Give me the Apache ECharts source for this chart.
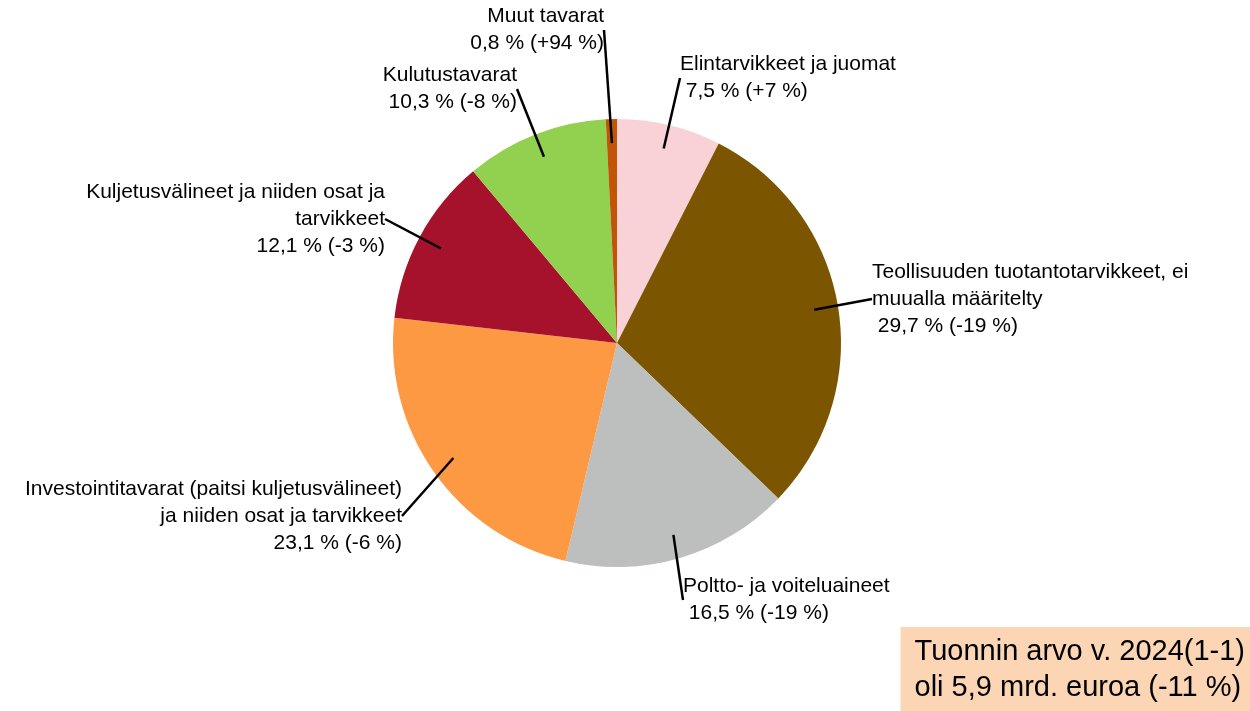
<!DOCTYPE html>
<html>
<head>
<meta charset="utf-8">
<script src="https://cdn.jsdelivr.net/npm/echarts@6/dist/echarts.min.js"></script>
<style>
html,body{margin:0;padding:0;background:#fff}
#pie{width:1250px;height:711px}
</style>
</head>
<body>
<div id="pie"></div>
<script>
// tuonti tavararyhmittäin, osuus % ja muutos %
var names = ['Elintarvikkeet ja juomat', 'Teollisuuden tuotantotarvikkeet, ei muualla määritelty',
             'Poltto- ja voiteluaineet', 'Investointitavarat (paitsi kuljetusvälineet) ja niiden osat ja tarvikkeet',
             'Kuljetusvälineet ja niiden osat ja tarvikkeet', 'Kulutustavarat', 'Muut tavarat'];
var labelNames = ['Elintarvikkeet ja juomat', 'Teollisuuden tuotantotarvikkeet, ei\nmuualla määritelty',
                  'Poltto- ja voiteluaineet', 'Investointitavarat (paitsi kuljetusvälineet)\nja niiden osat ja tarvikkeet',
                  'Kuljetusvälineet ja niiden osat ja\ntarvikkeet', 'Kulutustavarat', 'Muut tavarat'];
var shares = [7.5, 29.7, 16.5, 23.1, 12.1, 10.3, 0.8];
var changes = ['+7', '-19', '-19', '-6', '-3', '-8', '+94'];
var infoText = 'Tuonnin arvo v. 2024(1-1)\noli 5,9 mrd. euroa (-11 %)';

var colors = ['#F9D2D8', '#7B5500', '#BDBFBE', '#FD9843', '#A6122B', '#92D050', '#C05508'];
// label anchor: x, y (middle), align
var labelPos = [[680, 78, 'left'], [872, 299, 'left'], [683, 600, 'left'], [402, 516, 'right'],
                [385, 219, 'right'], [517, 89, 'right'], [604, 30, 'right']];
var leadSpace = [' ', ' ', ' ', '', '', '', ''];

function fmt(v){ return String(v).replace('.', ','); }

var pieData = names.map(function(n, i){
	return {name: n, value: shares[i], itemStyle: {color: colors[i]}};
});

var option = {
	animation: false,
	title: {
		text: infoText,
		right: 0,
		bottom: 0,
		backgroundColor: '#FCD5B5',
		padding: [7, 5, 5, 14],
		textStyle: {fontFamily: 'Liberation Sans, Arial', fontWeight: 'normal', fontSize: 29, lineHeight: 36, color: '#000'}
	},
	series: [
		{
			type: 'pie',
			z: 1,
			center: [617, 343],
			radius: 224,
			startAngle: 90,
			silent: true,
			label: {show: false},
			labelLine: {show: false},
			data: pieData
		},
		{
			// läpinäkyvä apusarja selitteille, viivat alkavat viipaleen sisältä
			type: 'pie',
			z: 5,
			center: [617, 343],
			radius: 200,
			startAngle: 90,
			silent: true,
			avoidLabelOverlap: false,
			itemStyle: {color: 'rgba(0,0,0,0)'},
			label: {
				show: true,
				position: 'outside',
				fontFamily: 'Liberation Sans, Arial',
				fontSize: 21,
				lineHeight: 27,
				color: '#000',
				formatter: function(p){
					var i = p.dataIndex;
					return labelNames[i] + '\n' + leadSpace[i] + fmt(shares[i]) + ' % (' + changes[i] + ' %)';
				}
			},
			labelLine: {show: true, length: 10, length2: 0, lineStyle: {color: '#000', width: 2.5}},
			labelLayout: function(p){
				var a = labelPos[p.dataIndex];
				return {x: a[0], y: a[1], align: a[2], verticalAlign: 'middle'};
			},
			data: names.map(function(n, i){ return {name: n, value: shares[i]}; })
		}
	]
};

var pieChart = echarts.init(document.getElementById('pie'));
pieChart.setOption(option);
</script>
</body>
</html>
